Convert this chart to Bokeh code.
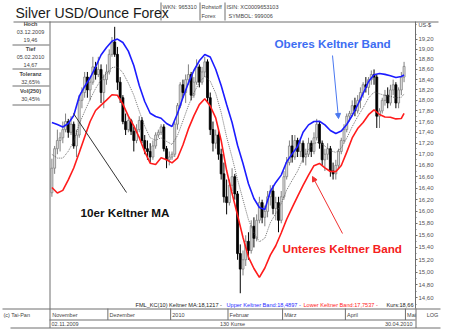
from bokeh.plotting import figure
from bokeh.models import (ColumnDataSource, Label, Arrow, NormalHead, LinearScale,
                          FixedTicker, CustomJSTickFormatter, Range1d)
from bokeh.embed import file_html
from bokeh.resources import INLINE

# ---------------- data ----------------
opens = [16.32, 16.75, 17.10, 17.25, 17.30, 17.45, 17.60, 17.40, 17.55, 17.15,
         17.35, 18.00, 18.15, 18.45, 18.20, 18.35, 18.65, 18.50, 18.60, 18.15,
         18.40, 18.55, 18.90, 19.15, 18.90, 18.35, 18.05, 17.60, 17.45, 17.62,
         17.42, 17.25, 17.45, 17.62, 17.25, 17.10, 17.05, 16.95, 17.15, 17.35,
         17.40, 17.50, 17.10, 16.90, 16.95, 17.00, 17.55, 17.90, 18.30, 18.15,
         18.40, 18.50, 18.10, 18.35, 18.65, 18.35, 18.55, 18.75, 18.05, 17.45,
         17.20, 17.35, 17.00, 16.65, 16.25, 16.15, 16.45, 16.60, 16.30, 15.30,
         15.05, 15.20, 15.50, 15.35, 15.75, 15.55, 15.85, 16.15, 15.90, 16.00,
         16.25, 16.35, 16.05, 16.15, 15.85, 16.25, 16.60, 16.85, 17.15, 16.95,
         17.25, 17.05, 17.20, 16.95, 17.00, 17.20, 17.05, 17.30, 17.55, 17.20,
         16.90, 17.00, 17.10, 16.70, 16.65, 16.80, 17.05, 17.25, 17.45, 17.70,
         17.75, 17.90, 17.80, 18.00, 18.15, 18.30, 18.25, 18.40, 18.50, 18.45,
         17.70, 17.80, 18.00, 18.10, 17.95, 18.20, 18.30, 17.95, 18.20, 18.45]
highs = [16.92, 17.15, 17.45, 17.40, 17.60, 17.75, 17.65, 17.70, 17.60, 17.45,
         18.10, 18.25, 18.55, 18.55, 18.45, 18.85, 18.75, 18.85, 18.70, 18.50,
         18.70, 19.00, 19.25, 19.46, 19.05, 18.45, 18.10, 17.75, 17.70, 17.65,
         17.50, 17.55, 17.70, 17.68, 17.35, 17.25, 17.20, 17.25, 17.40, 17.45,
         17.55, 17.55, 17.15, 17.05, 17.05, 17.60, 17.95, 18.35, 18.40, 18.50,
         18.70, 18.55, 18.45, 18.80, 18.70, 18.65, 18.85, 18.80, 18.15, 17.60,
         17.45, 17.45, 17.10, 16.85, 16.55, 16.55, 16.75, 16.65, 16.35, 15.45,
         15.35, 15.60, 15.65, 15.85, 15.90, 15.95, 16.25, 16.20, 16.10, 16.35,
         16.45, 16.45, 16.25, 16.25, 16.35, 16.70, 16.95, 17.25, 17.35, 17.35,
         17.30, 17.30, 17.25, 17.10, 17.30, 17.25, 17.40, 17.65, 17.60, 17.25,
         17.10, 17.20, 17.15, 16.85, 16.90, 17.10, 17.30, 17.55, 17.75, 17.80,
         18.00, 18.05, 18.10, 18.25, 18.35, 18.45, 18.45, 18.58, 18.60, 18.50,
         17.85, 18.05, 18.20, 18.25, 18.30, 18.40, 18.35, 18.25, 18.55, 18.75]
lows = [16.25, 16.65, 17.00, 17.05, 17.20, 17.40, 17.30, 17.35, 17.10, 16.95,
        17.30, 17.85, 18.05, 18.05, 18.00, 18.30, 18.40, 18.45, 17.95, 17.85,
        18.30, 18.50, 18.85, 18.85, 18.20, 17.95, 17.55, 17.35, 17.40, 17.35,
        17.05, 17.20, 17.40, 17.20, 17.00, 16.90, 16.85, 16.90, 17.10, 17.30,
        17.35, 17.05, 16.75, 16.80, 16.90, 16.95, 17.45, 17.85, 18.05, 17.95,
        18.30, 18.00, 18.05, 18.30, 18.25, 18.30, 18.45, 17.95, 17.35, 17.05,
        17.10, 16.90, 16.55, 16.15, 15.95, 16.10, 16.35, 16.20, 15.20, 14.67,
        14.95, 15.10, 15.20, 15.30, 15.40, 15.50, 15.80, 15.80, 15.75, 15.90,
        16.10, 15.95, 15.85, 15.65, 15.80, 16.20, 16.55, 16.80, 16.85, 16.90,
        16.95, 16.95, 16.85, 16.80, 16.95, 16.95, 17.00, 17.25, 17.10, 16.80,
        16.70, 16.90, 16.60, 16.55, 16.55, 16.75, 17.00, 17.20, 17.40, 17.60,
        17.70, 17.70, 17.75, 17.85, 18.05, 18.15, 18.10, 18.30, 18.30, 17.48,
        17.48, 17.75, 17.90, 17.85, 17.90, 18.10, 17.85, 17.85, 18.10, 18.35]
closes = [16.75, 17.10, 17.25, 17.30, 17.45, 17.60, 17.40, 17.55, 17.15, 17.35,
          18.00, 18.15, 18.45, 18.20, 18.35, 18.65, 18.50, 18.60, 18.15, 18.40,
          18.55, 18.90, 19.15, 18.90, 18.35, 18.05, 17.60, 17.45, 17.62, 17.42,
          17.25, 17.45, 17.62, 17.25, 17.10, 17.05, 16.95, 17.15, 17.35, 17.40,
          17.50, 17.10, 16.90, 16.95, 17.00, 17.55, 17.90, 18.30, 18.15, 18.40,
          18.50, 18.10, 18.35, 18.65, 18.35, 18.55, 18.75, 18.05, 17.45, 17.20,
          17.35, 17.00, 16.65, 16.25, 16.15, 16.45, 16.60, 16.30, 15.30, 15.05,
          15.20, 15.50, 15.35, 15.75, 15.55, 15.85, 16.15, 15.90, 16.00, 16.25,
          16.35, 16.05, 16.15, 15.85, 16.25, 16.60, 16.85, 17.15, 16.95, 17.25,
          17.05, 17.20, 16.95, 17.00, 17.20, 17.05, 17.30, 17.55, 17.20, 16.90,
          17.00, 17.10, 16.70, 16.65, 16.80, 17.05, 17.25, 17.45, 17.70, 17.75,
          17.90, 17.80, 18.00, 18.15, 18.30, 18.25, 18.40, 18.50, 18.45, 17.70,
          17.80, 18.00, 18.10, 17.95, 18.20, 18.30, 17.95, 18.20, 18.45, 18.66]

band_days = list(range(0, 129, 2)) + [129]
upper_band = [17.582, 17.545, 17.499, 17.564, 17.713, 18.074, 18.267, 18.436, 18.648, 18.887,
              19.038, 19.165, 19.208, 19.139, 18.965, 18.678, 18.287, 17.978, 17.756, 17.694,
              17.661, 17.564, 17.508, 17.751, 18.055, 18.333, 18.579, 18.771, 18.897, 18.847,
              18.603, 18.287, 17.921, 17.582, 17.164, 16.834, 16.476, 16.221, 16.067, 16.033,
              16.342, 16.499, 16.628, 16.865, 17.007, 17.141, 17.400, 17.538, 17.601, 17.606,
              17.538, 17.434, 17.378, 17.423, 17.545, 17.713, 17.912, 18.132, 18.364, 18.497,
              18.520, 18.503, 18.474, 18.442, 18.462, 18.490]
lower_band = [16.411, 16.316, 16.361, 16.544, 16.754, 17.028, 17.314, 17.601, 17.807, 17.910,
              18.005, 18.107, 18.097, 17.929, 17.701, 17.519, 17.301, 17.046, 16.840, 16.817,
              16.935, 16.901, 16.845, 16.929, 17.168, 17.463, 17.705, 17.919, 18.030, 17.892,
              17.668, 17.250, 16.709, 16.307, 15.937, 15.564, 15.244, 15.060, 14.918, 15.068,
              15.276, 15.428, 15.637, 15.867, 16.064, 16.256, 16.448, 16.627, 16.795, 16.834,
              16.757, 16.692, 16.689, 16.798, 17.038, 17.296, 17.470, 17.582, 17.728, 17.820,
              17.732, 17.685, 17.681, 17.649, 17.657, 17.754]
keltner_ma = [16.997, 16.931, 16.930, 17.054, 17.234, 17.551, 17.791, 18.019, 18.228, 18.399,
              18.522, 18.636, 18.653, 18.534, 18.333, 18.099, 17.794, 17.512, 17.298, 17.256,
              17.298, 17.233, 17.177, 17.340, 17.612, 17.898, 18.142, 18.345, 18.464, 18.370,
              18.136, 17.769, 17.315, 16.945, 16.551, 16.199, 15.860, 15.641, 15.493, 15.551,
              15.809, 15.964, 16.133, 16.366, 16.536, 16.699, 16.924, 17.083, 17.198, 17.220,
              17.148, 17.063, 17.034, 17.111, 17.292, 17.505, 17.691, 17.857, 18.046, 18.159,
              18.126, 18.094, 18.078, 18.046, 18.060, 18.122]

y_ticks = [14.6, 14.8, 15.0, 15.2, 15.4, 15.6, 15.8, 16.0, 16.2, 16.4, 16.6, 16.8,
           17.0, 17.2, 17.4, 17.6, 17.8, 18.0, 18.2, 18.4, 18.6, 18.8, 19.0, 19.2]
y_minor = [14.5, 14.7, 14.9, 15.1, 15.3, 15.5, 15.7, 15.9, 16.1, 16.3, 16.5, 16.7, 16.9,
           17.1, 17.3, 17.5, 17.7, 17.9, 18.1, 18.3, 18.5, 18.7, 18.9, 19.1, 19.3, 19.5]
month_start = [0, 21, 44, 65, 85, 108, 130]
month_names = ["November", "Dezember", "2010", "Februar", "März", "April", "Mai"]

# ---------------- layout constants (canvas pixels) ----------------
W, H = 450, 335
FL, FT, FR, FB = 49, 21, 415, 308      # chart box inside the canvas
FONT = "Liberation Sans"
GRID = "#6e6e6e"

# the frame covers the whole canvas; ranges chosen so the chart box sits at FL..FR / FT..FB
p = figure(width=W, height=H, x_range=Range1d(-18.828, 146.007), y_range=Range1d(14.027, 20.0107),
           y_axis_type="log", y_axis_location="right", x_axis_location=None,
           min_border=0, min_border_left=0, min_border_right=0, min_border_top=0,
           min_border_bottom=0, output_backend="svg", toolbar_location=None)
p.grid.visible = False
p.outline_line_color = None
p.background_fill_color = "white"
p.border_fill_color = "white"
p.extra_x_ranges = {"px": Range1d(0, W)}
p.extra_y_ranges = {"px": Range1d(H, 0)}
p.extra_x_scales = {"px": LinearScale()}
p.extra_y_scales = {"px": LinearScale()}

ax = p.yaxis[0]
ax.fixed_location = 133.187
ax.bounds = (14.436, 19.57)
ax.ticker = FixedTicker(ticks=y_ticks, minor_ticks=y_minor)
ax.formatter = CustomJSTickFormatter(code="return tick.toFixed(2).replace('.', ',');")
ax.axis_line_color = GRID
ax.major_tick_line_color = GRID
ax.minor_tick_line_color = GRID
ax.major_tick_in = 0
ax.major_tick_out = 2
ax.minor_tick_in = 0
ax.minor_tick_out = 1
ax.major_label_standoff = 1
ax.major_label_text_font = FONT
ax.major_label_text_font_size = "6px"
ax.major_label_text_color = "#555555"

# ---------------- candles ----------------
days = list(range(len(closes)))
up = [c >= o for o, c in zip(opens, closes)]
src = ColumnDataSource(dict(
    x=days, o=opens, h=highs, l=lows, c=closes,
    top=[max(o, c) for o, c in zip(opens, closes)],
    bottom=[min(o, c) for o, c in zip(opens, closes)],
    fill=["#e4e4e4" if u else "#000000" for u in up],
    line=["#808080" if u else "#000000" for u in up],
))
p.segment(x0="x", y0="h", x1="x", y1="l", line_color="line", line_width=1, source=src)
p.vbar(x="x", width=0.72, top="top", bottom="bottom", fill_color="fill",
       line_color="line", line_width=0.8, source=src)

# ---------------- Keltner lines ----------------
p.line(band_days, keltner_ma, line_color="#505050", line_width=0.8, line_dash="1 1")
p.line(band_days, upper_band, line_color="#1c1cff", line_width=1.6)
p.line(band_days, lower_band, line_color="#ff1c1c", line_width=1.6)

# ---------------- frame / table lines (canvas pixels) ----------------
seg_x0 = [13, 49.5, 2, 49, 10, 415.5, 160.5, 199.5, 224.5, 12, 12, 12, 12]
seg_y0 = [21.5, 21, 308.5, 319.5, 327.5, 308, 2, 2, 2, 44.5, 68.5, 85.5, 104.5]
seg_x1 = [438, 49.5, 440, 415, 440, 415.5, 160.5, 199.5, 224.5, 49, 49, 49, 49]
seg_y1 = [21.5, 327.5, 308.5, 319.5, 327.5, 327.5, 20, 20, 20, 44.5, 68.5, 85.5, 104.5]
p.segment(seg_x0, seg_y0, seg_x1, seg_y1, line_color=GRID, line_width=1,
          x_range_name="px", y_range_name="px")
# month separators (data x, pixel y)
sep_x = [m - 0.5 for m in month_start[1:]]
p.segment(sep_x, [308] * len(sep_x), sep_x, [319.5] * len(sep_x), line_color=GRID,
          line_width=1, y_range_name="px")


# ---------------- texts ----------------
def sx(cx):
    return cx


def sy(cy):
    return H - cy


def text(cx, cy, s, size=5.5, color="#444444", bold=False, align="left"):
    p.add_layout(Label(x=sx(cx), y=sy(cy), x_units="screen", y_units="screen", text=s,
                       text_font=FONT, text_font_size=f"{size}px", text_color=color,
                       text_font_style="bold" if bold else "normal",
                       text_align=align, text_baseline="middle"))


def arrow(x0, y0, x1, y1, color, head=True):
    p.add_layout(Arrow(x_start=sx(x0), y_start=sy(y0), x_end=sx(x1), y_end=sy(y1),
                       start_units="screen", end_units="screen", line_color=color,
                       line_width=1,
                       end=NormalHead(size=5, fill_color=color, line_color=color) if head else None))


# header
text(15, 12, "Silver USD/Ounce Forex", size=14, color="#1a1a1a")
text(162, 6, "WKN: 965310")
text(201, 6, "Rohstoff")
text(201, 15, "Forex")
text(226, 6, "ISIN: XC0009653103")
text(228, 15, "SYMBOL: 999006")

# left info panel
text(30, 23, "Hoch", bold=True, align="center")
text(30, 31.5, "03.12.2009", align="center")
text(30, 39, "19,46", align="center")
text(30, 48, "Tief", bold=True, align="center")
text(30, 56, "05.02.2010", align="center")
text(30, 64, "14,67", align="center")
text(30, 73, "Toleranz", bold=True, align="center")
text(30, 81, "32,65%", align="center")
text(30, 90, "Vol(250)", bold=True, align="center")
text(30, 98, "30,45%", align="center")

# axis unit
text(418, 24, "US-$")

# legend line at the bottom of the chart
text(135, 304, "FML_KC(10) Keltner MA:18,1217 -", size=5.6, color="#222222")
text(226, 304, "Upper Keltner Band:18,4897 -", size=5.6, color="#2b2bff")
text(303, 304, "Lower Keltner Band:17,7537 -", size=5.6, color="#ff2222")
text(413, 304, "Kurs:18,66", size=5.6, color="#222222", align="right")

# bottom rows
text(3, 314, "(c) Tai-Pan")
text(432, 314, "LOG", align="center")
for m, name in zip(month_start, month_names):
    p.add_layout(Label(x=m - 0.5 + 0.6, y=sy(314), x_units="data", y_units="screen", text=name,
                       text_font=FONT, text_font_size="5.5px", text_color="#444444",
                       text_baseline="middle"))
text(51, 323, "02.11.2009")
text(232, 323, "130 Kurse", align="center")
text(412, 323, "30.04.2010", align="right")

# annotations inside the chart
text(274, 43, "Oberes Keltner Band", size=11.7, color="#3d6df2", bold=True)
arrow(332, 55, 338, 118, "#4a78f0")
text(282, 248, "Unteres Keltner Band", size=11.7, color="#f52020", bold=True)
arrow(342, 233, 312, 176, "#f03030")
text(80, 212, "10er Keltner MA", size=11.7, color="#111111", bold=True)
arrow(126, 192, 73, 113, "#333333", head=False)

open("out.html", "w").write(file_html(p, INLINE))
